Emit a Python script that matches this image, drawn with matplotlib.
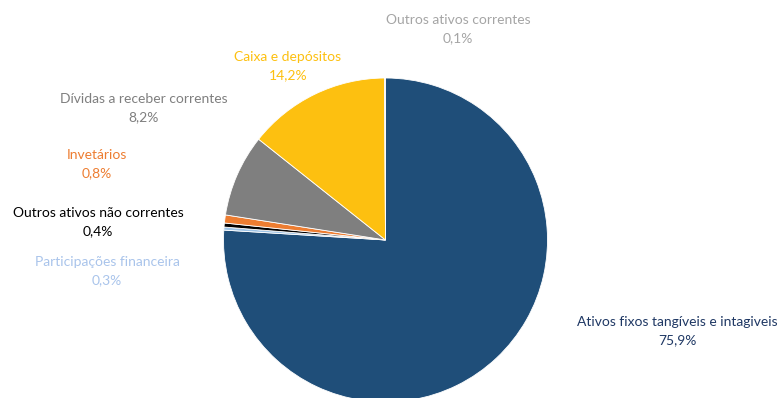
import matplotlib.pyplot as plt

# composicao do ativo (%)
labels = ["Ativos fixos tangíveis e intagiveis", "Participações financeira",
          "Outros ativos não correntes", "Invetários",
          "Dívidas a receber correntes", "Caixa e depósitos",
          "Outros ativos correntes"]
pct_txt = ["75,9%", "0,3%", "0,4%", "0,8%", "8,2%", "14,2%", "0,1%"]
values = [75.9, 0.3, 0.4, 0.8, 8.2, 14.2, 0.1]
colors = ["#1F4E79", "#9DC3E6", "#000000", "#ED7D31", "#7F7F7F", "#FDC010", "#A5A5A5"]
text_colors = ["#1F3864", "#A9C4EB", "#000000", "#ED7D31", "#7F7F7F", "#FDC010", "#A5A5A5"]

# label centres (pixels from top-left)
lab_pos = [(677, 322), (107, 262), (98, 213), (97, 155), (144, 99), (288, 57), (458, 20)]

W, H = 781, 398
fig = plt.figure(figsize=(W / 100, H / 100), dpi=100)
ax = fig.add_axes([0, 0, 1, 1])
ax.set_xlim(0, W)
ax.set_ylim(0, H)
ax.set_aspect("equal")
ax.axis("off")

ax.pie(values, colors=colors, startangle=90, counterclock=False,
       center=(385.5, H - 240), radius=162,
       wedgeprops=dict(edgecolor="white", linewidth=0.6))
ax.set_xlim(0, W)
ax.set_ylim(0, H)

for lab, p, (x, y), c in zip(labels, pct_txt, lab_pos, text_colors):
    ax.text(x, H - y, lab, ha="center", va="center", fontsize=10,
            family="Lato", color=c)
    ax.text(x, H - y - 18.5, p, ha="center", va="center", fontsize=10,
            family="Lato", color=c)

fig.savefig("out.png", dpi=100)
